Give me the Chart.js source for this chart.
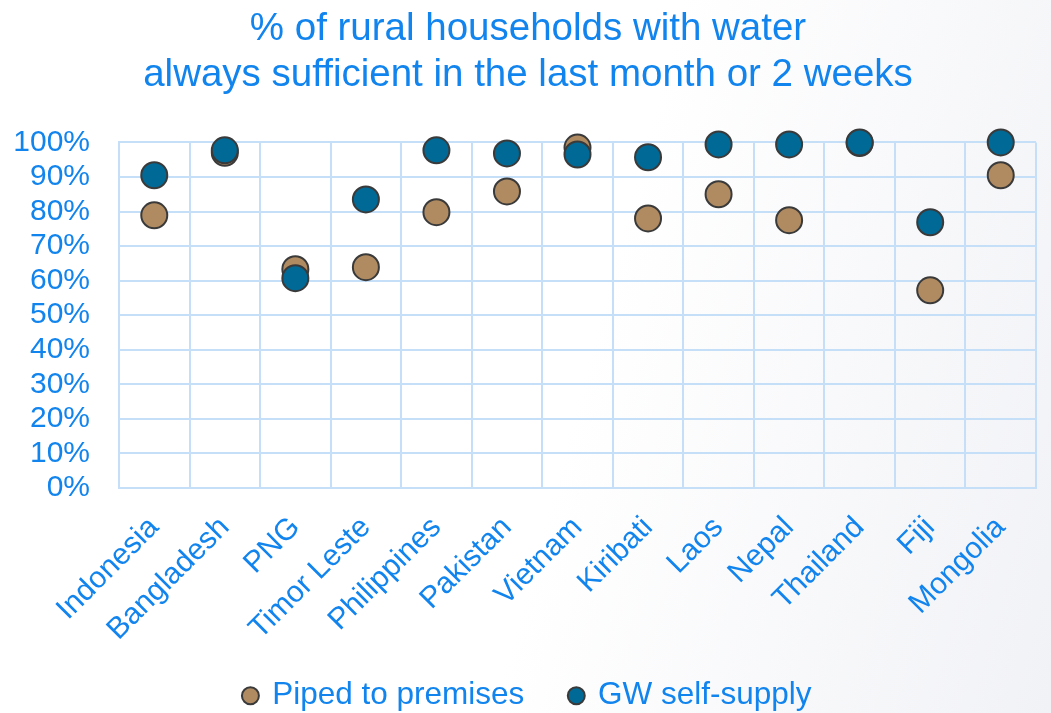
<!DOCTYPE html>
<html>
<head>
<meta charset="utf-8">
<script src="https://cdn.jsdelivr.net/npm/chart.js@4"></script>
<style>
  html, body { margin: 0; padding: 0; }
  body { background: linear-gradient(105deg, #ffffff 55%, #f1f2f6 100%); }
  #wrap { width: 1051px; height: 713px; }
</style>
</head>
<body>
<div id="wrap"><canvas id="waterChart"></canvas></div>
<script>
var countries = ["Indonesia", "Bangladesh", "PNG", "Timor Leste", "Philippines", "Pakistan",
  "Vietnam", "Kiribati", "Laos", "Nepal", "Thailand", "Fiji", "Mongolia"];
var piped = [78.9, 97.0, 63.3, 63.9, 79.8, 85.8, 98.5, 78.0, 85.0, 77.5, 99.8, 57.2, 90.5];
var gwSelf = [90.5, 97.7, 60.7, 83.5, 97.7, 96.8, 96.5, 95.7, 99.4, 99.4, 100, 76.9, 100];

var blue = "#1184ee";
var gridBlue = "#c5dff8";
var font = "'Liberation Sans', Arial, sans-serif";

// the rotated country names run a little past the axis box, so let them draw below it
var labelRoom = {
  id: 'labelRoom',
  afterLayout: function (chart) {
    chart.scales.x.bottom = chart.height;
  }
};

var ctx = document.getElementById("waterChart").getContext("2d");
new Chart(ctx, {
  type: 'line',
  data: {
    labels: countries,
    datasets: [{
      label: "Piped to premises",
      data: piped,
      showLine: false,
      pointRadius: 13,
      pointHoverRadius: 13,
      pointBackgroundColor: "#b08b61",
      pointBorderColor: "#3a3a3a",
      pointBorderWidth: 2,
      backgroundColor: "#b08b61",
      borderColor: "#3a3a3a",
      borderWidth: 2,
      order: 1
    }, {
      label: "GW self-supply",
      data: gwSelf,
      showLine: false,
      pointRadius: 13,
      pointHoverRadius: 13,
      pointBackgroundColor: "#006995",
      pointBorderColor: "#3a3a3a",
      pointBorderWidth: 2,
      backgroundColor: "#006995",
      borderColor: "#3a3a3a",
      borderWidth: 2,
      order: 0
    }]
  },
  options: {
    responsive: true,
    maintainAspectRatio: false,
    animation: false,
    clip: false,
    layout: { padding: { left: 8, right: 3, top: 2, bottom: 0 } },
    plugins: {
      title: {
        display: true,
        text: ["% of rural households with water", "always sufficient in the last month or 2 weeks"],
        color: blue,
        font: { family: font, size: 38.5, weight: 'normal' },
        padding: { top: 4, bottom: 44 },
        lineHeight: 1.12
      },
      legend: {
        position: 'bottom',
        reverse: true,
        maxHeight: 79,
        labels: {
          usePointStyle: true,
          pointStyle: 'circle',
          boxWidth: 12,
          boxHeight: 12,
          padding: 46,
          color: blue,
          font: { family: font, size: 31.5 }
        }
      },
      tooltip: { enabled: false }
    },
    scales: {
      x: {
        type: 'category',
        offset: true,
        grid: { offset: true, color: gridBlue, lineWidth: 2, drawTicks: false },
        border: { color: gridBlue, width: 2 },
        afterFit: function (scale) { scale.height = 146; },
        ticks: {
          color: blue,
          font: { family: font, size: 30 },
          minRotation: 45,
          maxRotation: 45,
          padding: 22
        }
      },
      y: {
        min: 0,
        max: 100,
        grid: { color: gridBlue, lineWidth: 2, drawTicks: false },
        border: { color: gridBlue, width: 2 },
        afterFit: function (scale) { scale.width = 111; },
        ticks: {
          stepSize: 10,
          autoSkip: false,
          color: blue,
          font: { family: font, size: 30 },
          padding: 29,
          callback: function (v) { return v + "%"; }
        }
      }
    }
  },
  plugins: [labelRoom]
});
</script>
</body>
</html>
